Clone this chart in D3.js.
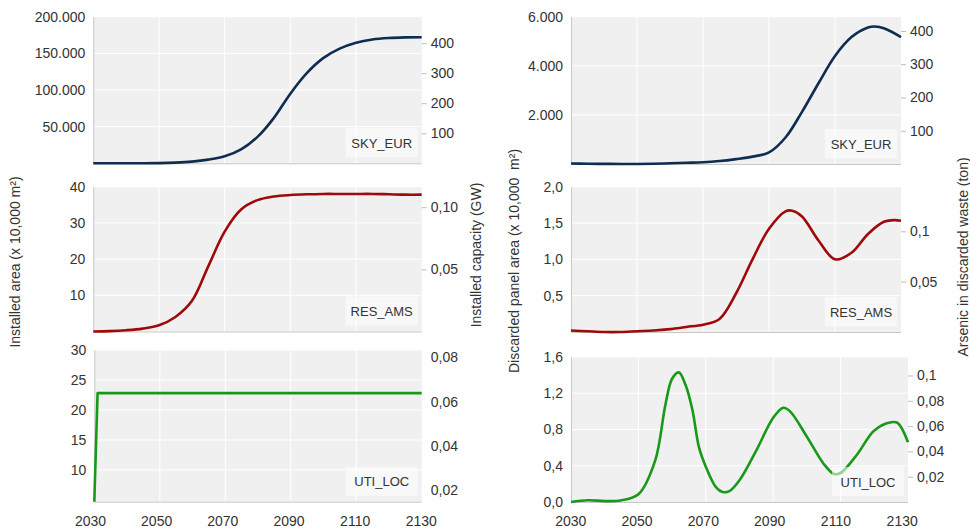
<!DOCTYPE html>
<html>
<head>
<meta charset="utf-8">
<script src="https://cdn.jsdelivr.net/npm/d3@7"></script>
<style>
  body { margin: 0; background: #fff; }
  svg { display: block; font-family: "Liberation Sans", Arial, sans-serif; }
  .axis text { fill: #333; font-size: 14px; }
  .axis .domain { stroke: #c8c8c8; }
  .axis line { stroke: #bdbdbd; }
  .grid line { stroke: #fff; stroke-width: 1; }
  .axis-title { fill: #333; font-size: 14px; white-space: pre; }
  .tag text { fill: #333; font-size: 13px; }
</style>
</head>
<body>
<svg id="chart" width="970" height="528"></svg>
<script>
// ---- data ----
const years5 = [2030, 2035, 2040, 2045, 2050, 2055, 2060, 2065, 2070, 2075, 2080,
  2085, 2090, 2095, 2100, 2105, 2110, 2115, 2120, 2125, 2130];
const xTickYears = [2030, 2050, 2070, 2090, 2110, 2130];

// installed area (x 10,000 m2)
const skyEurArea = [0, 0, 0, 0, 200, 900, 2300, 5000, 9500, 19000, 36000,
  62000, 95000, 123000, 143500, 156500, 164500, 169000, 171000, 171800, 172000];
const resAmsArea = [0, 0.1, 0.35, 0.8, 1.7, 4.0, 8.4, 18, 27.6, 33.7, 36.3,
  37.3, 37.7, 37.9, 38, 38, 38, 38, 37.9, 37.8, 37.8];
const utiLocYears = [2030, 2031, 2130];
const utiLocArea = [4.7, 22.8, 22.8];

// discarded panel area (x 10,000 m2)
const skyEurDiscYears = [2030, 2035, 2040, 2045, 2050, 2055, 2060, 2065, 2070, 2075, 2080,
  2085, 2090, 2095, 2100, 2105, 2110, 2115, 2120, 2122, 2125, 2130];
const skyEurDisc = [20, 10, 5, 0, 0, 10, 30, 50, 70, 120, 200,
  300, 470, 1080, 2125, 3290, 4400, 5170, 5560, 5600, 5520, 5170];
const resAmsDiscYears = [2030, 2035, 2040, 2045, 2050, 2055, 2060, 2065, 2070, 2075, 2080,
  2085, 2090, 2095, 2097, 2100, 2105, 2110, 2115, 2120, 2125, 2128, 2130];
const resAmsDisc = [0.02, 0.01, 0, 0, 0.01, 0.02, 0.04, 0.07, 0.1, 0.18, 0.53,
  1.0, 1.42, 1.66, 1.67, 1.59, 1.26, 1.0, 1.09, 1.35, 1.52, 1.54, 1.53];
const utiLocDiscYears = [2030, 2035, 2040, 2045, 2050, 2055, 2058, 2060, 2062, 2064, 2066,
  2068, 2070, 2073, 2075, 2077, 2080, 2085, 2090, 2093, 2095, 2100, 2105, 2108, 2110,
  2115, 2120, 2125, 2127, 2130];
const utiLocDisc = [0, 0.02, 0.01, 0.02, 0.085, 0.46, 1.07, 1.36, 1.43, 1.29, 1.02,
  0.6, 0.39, 0.165, 0.11, 0.12, 0.24, 0.57, 0.93, 1.04, 1.0, 0.72, 0.42, 0.31, 0.32,
  0.53, 0.79, 0.88, 0.87, 0.66];

// axis ticks
const skyEurAreaTicks = [50000, 100000, 150000, 200000];
const resAmsAreaTicks = [10, 20, 30, 40];
const utiLocAreaTicks = [10, 15, 20, 25, 30];
const capacityTicksTop = [100, 200, 300, 400];
const capacityTicksMid = [0.05, 0.10];
const capacityTicksBot = [0.02, 0.04, 0.06, 0.08];
const skyEurDiscTicks = [2000, 4000, 6000];
const resAmsDiscTicks = [0.5, 1.0, 1.5, 2.0];
const utiLocDiscTicks = [0, 0.4, 0.8, 1.2, 1.6];
const arsenicTicksTop = [100, 200, 300, 400];
const arsenicTicksMid = [0.05, 0.1];
const arsenicTicksBot = [0.02, 0.04, 0.06, 0.08, 0.1];

const tags = ['SKY_EUR', 'RES_AMS', 'UTI_LOC'];
const colors = ['#0f2d50', '#9e0a0a', '#18991a'];

// german style number formatting
const de = d3.formatLocale({ decimal: ',', thousands: '.', grouping: [3], currency: ['', '€'] });

class DualAxisPanel {

  constructor(_config, _data) {
    this.config = _config;
    this.data = _data;
    this.initVis();
  }

  initVis() {
    let vis = this;
    const c = vis.config;

    vis.xScale = d3.scaleLinear().domain([2030, 2130]).range(c.x);
    vis.yScale = d3.scaleLinear().domain(c.yDomain).range(c.y);
    vis.y2Scale = d3.scaleLinear().domain(c.y2Domain).range(c.y);

    vis.g = d3.select('#chart').append('g');

    // plot background
    vis.g.append('rect')
      .attr('x', c.x[0]).attr('y', c.y[1])
      .attr('width', c.x[1] - c.x[0]).attr('height', c.y[0] - c.y[1])
      .attr('fill', '#f0f0f0');

    // white gridlines
    vis.g.append('g').attr('class', 'grid')
      .selectAll('line.h').data(c.yTicks.filter(d => d > c.yDomain[0])).join('line')
      .attr('x1', c.x[0]).attr('x2', c.x[1])
      .attr('y1', d => vis.yScale(d)).attr('y2', d => vis.yScale(d));
    vis.g.append('g').attr('class', 'grid')
      .selectAll('line.v').data(xTickYears.slice(1, -1)).join('line')
      .attr('y1', c.y[0]).attr('y2', c.y[1])
      .attr('x1', d => vis.xScale(d)).attr('x2', d => vis.xScale(d));

    // bottom axis line
    vis.g.append('line')
      .attr('x1', c.x[0]).attr('x2', c.x[1])
      .attr('y1', c.y[0] + 0.5).attr('y2', c.y[0] + 0.5)
      .attr('stroke', '#c8c8c8');

    vis.yAxis = d3.axisLeft(vis.yScale)
      .tickValues(c.yTicks).tickSize(0).tickSizeOuter(0).tickPadding(8)
      .tickFormat(c.yFormat);
    vis.y2Axis = d3.axisRight(vis.y2Scale)
      .tickValues(c.y2Ticks).tickSize(c.y2TickSize).tickSizeOuter(0)
      .tickPadding(c.y2TickSize ? 4 : 9)
      .tickFormat(c.y2Format);

    vis.g.append('g').attr('class', 'axis')
      .attr('transform', `translate(${c.x[0]},0)`)
      .call(vis.yAxis);
    vis.g.append('g').attr('class', 'axis')
      .attr('transform', `translate(${c.x[1]},0)`)
      .call(vis.y2Axis)
      .call(g => g.select('.domain').remove());

    vis.line = d3.line()
      .curve(c.curve || d3.curveCatmullRom.alpha(0.5))
      .x(d => vis.xScale(d.year))
      .y(d => vis.yScale(d.value));

    vis.g.append('path')
      .datum(vis.data)
      .attr('fill', 'none')
      .attr('stroke', c.color)
      .attr('stroke-width', 2.6)
      .attr('stroke-linejoin', 'round')
      .attr('d', vis.line);

    // series tag box, bottom right of plot
    const tag = vis.g.append('g').attr('class', 'tag')
      .attr('transform', `translate(${c.x[1] - 76},${c.y[0] - 35})`);
    tag.append('rect')
      .attr('width', 72).attr('height', 29)
      .attr('fill', '#fff').attr('fill-opacity', 0.55);
    tag.append('text')
      .attr('x', 36).attr('y', 19.5)
      .attr('text-anchor', 'middle')
      .text(c.tag);
  }
}

const zip = (xs, vs) => xs.map((year, i) => ({ year, value: vs[i] }));

const panelDefs = [
  { tag: tags[0], color: colors[0], x: [93.3, 421.7], y: [163.3, 16.7],
    yDomain: [0, 200000], yTicks: skyEurAreaTicks, yFormat: de.format(','),
    y2Domain: [0, 488], y2Ticks: capacityTicksTop, y2Format: de.format('d'), y2TickSize: 5,
    data: zip(years5, skyEurArea) },
  { tag: tags[1], color: colors[1], x: [93.3, 421.7], y: [331.5, 186.7],
    yDomain: [0, 40], yTicks: resAmsAreaTicks, yFormat: de.format('d'),
    y2Domain: [0, 0.1165], y2Ticks: capacityTicksMid, y2Format: de.format('.2f'), y2TickSize: 5,
    data: zip(years5, resAmsArea) },
  { tag: tags[2], color: colors[2], x: [94.3, 421.7], y: [501.7, 350],
    yDomain: [4.7, 30], yTicks: utiLocAreaTicks, yFormat: de.format('d'),
    y2Domain: [0.0147, 0.0833], y2Ticks: capacityTicksBot, y2Format: de.format('.2f'), y2TickSize: 0,
    curve: d3.curveLinear,
    data: zip(utiLocYears, utiLocArea) },
  { tag: tags[0], color: colors[0], x: [571, 901], y: [164, 16.7],
    yDomain: [0, 6000], yTicks: skyEurDiscTicks, yFormat: de.format(','),
    y2Domain: [0, 443], y2Ticks: arsenicTicksTop, y2Format: de.format('d'), y2TickSize: 5,
    data: zip(skyEurDiscYears, skyEurDisc) },
  { tag: tags[1], color: colors[1], x: [571, 901], y: [332, 186.7],
    yDomain: [0, 2], yTicks: resAmsDiscTicks, yFormat: de.format('.1f'),
    y2Domain: [0, 0.1443], y2Ticks: arsenicTicksMid, y2Format: de.format('~g'), y2TickSize: 5,
    data: zip(resAmsDiscYears, resAmsDisc) },
  { tag: tags[2], color: colors[2], x: [571, 908], y: [502, 357],
    yDomain: [0, 1.6], yTicks: utiLocDiscTicks, yFormat: de.format('.1f'),
    y2Domain: [0, 0.1146], y2Ticks: arsenicTicksBot, y2Format: de.format('~g'), y2TickSize: 5,
    data: zip(utiLocDiscYears, utiLocDisc) }
];

panelDefs.forEach(p => new DualAxisPanel(p, p.data));

// shared year labels under each column
const svg = d3.select('#chart');
[[90, 420.8], [570.3, 901.7]].forEach(range => {
  const xLab = d3.scaleLinear().domain([2030, 2130]).range(range);
  svg.append('g').attr('class', 'axis')
    .attr('transform', 'translate(0,501.7)')
    .call(d3.axisBottom(xLab).tickValues(xTickYears).tickSize(0).tickPadding(14).tickFormat(d3.format('d')))
    .call(g => g.select('.domain').remove());
});

// axis titles
const titles = [
  { text: 'Installed area (x 10,000 m²)', x: 15, y: 262 },
  { text: 'Installed capacity (GW)', x: 476, y: 255 },
  { text: 'Discarded panel area (x 10,000  m²)', x: 514, y: 261 },
  { text: 'Arsenic in discarded waste (ton)', x: 963, y: 257 }
];
svg.selectAll('text.axis-title').data(titles).join('text')
  .attr('class', 'axis-title')
  .attr('text-anchor', 'middle')
  .attr('dy', '0.35em')
  .attr('transform', d => `translate(${d.x},${d.y}) rotate(-90)`)
  .text(d => d.text);
</script>
</body>
</html>
